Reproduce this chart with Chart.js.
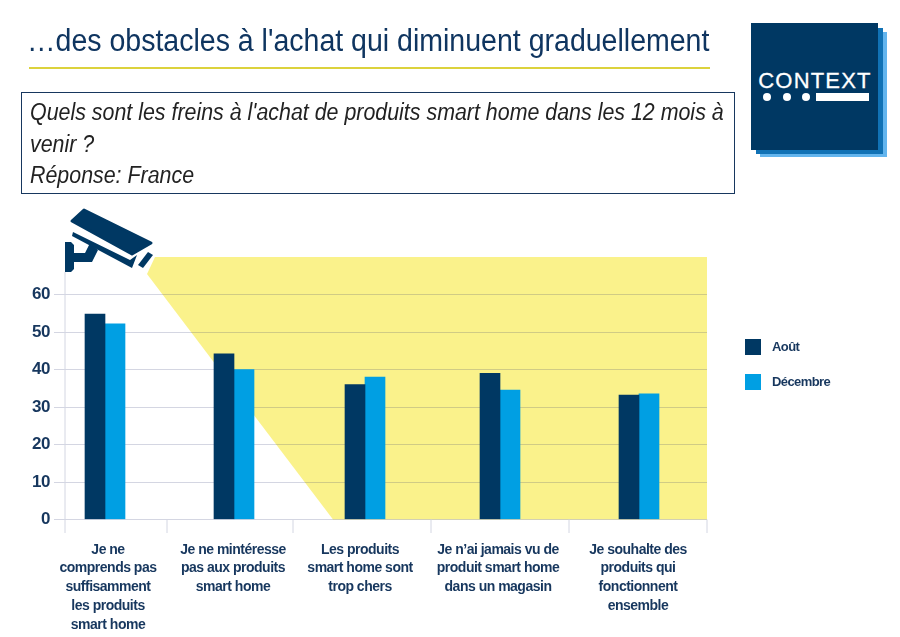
<!DOCTYPE html>
<html lang="fr">
<head>
<meta charset="utf-8">
<title>Freins à l'achat smart home</title>
<script src="https://cdn.jsdelivr.net/npm/chart.js@4/dist/chart.umd.min.js"></script>
<style>
  html, body { margin: 0; padding: 0; background: #fff; }
  #page { position: relative; width: 900px; height: 637px; overflow: hidden; font-family: "Liberation Sans", sans-serif; }
  #page > * { position: absolute; }
  canvas { left: 0; top: 0; }
  #titre { left: 27px; top: 21px; font-size: 31px; line-height: 40px; color: #0f3560; white-space: nowrap; transform: scaleX(0.92); transform-origin: left top; }
  #filet { left: 29px; top: 67px; width: 681px; height: 2px; background: #dcd23c; }
  #cadre { left: 21px; top: 92px; width: 712px; height: 100px; border: 1px solid #17375e; }
  #question { left: 30px; top: 97px; width: 770px; font-style: italic; font-size: 23px; line-height: 31.5px; color: #222; transform: scaleX(0.93); transform-origin: left top; }
  #l3 { left: 760px; top: 32px; width: 127px; height: 125px; background: #63b5ee; }
  #l2 { left: 756px; top: 28px; width: 127px; height: 126px; background: #1172b5; }
  #l1 { left: 751px; top: 23px; width: 127px; height: 127px; background: #003863; }
  #nom { left: 758px; top: 67px; width: 114px; text-align: center; font-size: 22px; line-height: 28px; color: #fff; letter-spacing: 1.2px; white-space: nowrap; -webkit-text-stroke: 0.3px #fff; }
  .point { width: 8px; height: 8px; top: 93px; border-radius: 50%; background: #fff; }
  #barre { left: 816px; top: 93px; width: 53px; height: 8px; background: #fff; }
  .cle { left: 745px; width: 16px; height: 16px; }
  .nomcle { left: 772px; font: bold 13px/16px "Liberation Sans", sans-serif; letter-spacing: -0.6px; color: #17375e; }
</style>
</head>
<body>
<div id="page">
  <canvas id="graphique" width="900" height="637"></canvas>
  <div id="titre">…des obstacles à l'achat qui diminuent graduellement</div>
  <div id="filet"></div>
  <div id="cadre"></div>
  <div id="question">Quels sont les freins à l'achat de produits smart home dans les 12 mois à venir ?<br>Réponse: France</div>
  <div id="l3"></div><div id="l2"></div><div id="l1"></div>
  <div id="nom">CONTEXT</div>
  <div class="point" style="left:763px"></div>
  <div class="point" style="left:783px"></div>
  <div class="point" style="left:802px"></div>
  <div id="barre"></div>
  <div id="legende"></div>
</div>
<script>
// donnees
const categories = [
  ['Je ne', 'comprends pas', 'suffisamment', 'les produits', 'smart home'],
  ['Je ne mintéresse', 'pas aux produits', 'smart home'],
  ['Les produits', 'smart home sont', 'trop chers'],
  ['Je n’ai jamais vu de', 'produit smart home', 'dans un magasin'],
  ['Je souhalte des', 'produits qui', 'fonctionnent', 'ensemble']
];
const nomsSeries = ['Août', 'Décembre'];
const valeursAout = [54.8, 44.2, 36, 39, 33.2];
const valeursDecembre = [52.2, 40, 38, 34.5, 33.5];
const ticksY = [0, 10, 20, 30, 40, 50, 60];

// mise en page (les groupes ne sont pas regulierement espaces sur l'original)
const couleurs = ['#003863', '#009fe3'];
const zone = { left: 65, right: 707, top: 257, bottom: 519.5 };
const centresGroupes = [105, 234, 365, 500, 639];
const centresLabels = [108, 233, 360, 498, 638];
const separateurs = [65, 167, 293, 431, 569, 707];
const police = '"Liberation Sans", sans-serif';

class CategoriePlacee extends Chart.CategoryScale {
  getPixelForValue(value) {
    const i = typeof value === 'number' ? value : this.parse(value);
    return centresGroupes[i];
  }
  getPixelForTick(index) {
    return centresLabels[index];
  }
}
CategoriePlacee.id = 'categoriePlacee';
CategoriePlacee.defaults = Chart.CategoryScale.defaults;
Chart.register(CategoriePlacee);

function poly(c, pts) {
  c.beginPath();
  pts.forEach((p, i) => i ? c.lineTo(p[0], p[1]) : c.moveTo(p[0], p[1]));
  c.closePath();
  c.fill();
}

// cone jaune + camera, derriere la grille
const fondCamera = {
  id: 'fondCamera',
  beforeDraw(chart) {
    const c = chart.ctx;
    // pas de police etroite installee : on resserre les lettres
    c.letterSpacing = '-0.5px';
    c.save();
    c.fillStyle = '#faf28b';
    poly(c, [[155, 257], [zone.right, 257], [zone.right, zone.bottom], [333, zone.bottom], [147, 274]]);

    c.fillStyle = '#003863';
    c.strokeStyle = '#003863';
    c.lineJoin = 'round';
    c.lineWidth = 3;
    const corps = [[84, 210], [151, 243], [132, 254], [72, 221]];
    poly(c, corps);
    c.stroke();
    poly(c, [[73, 232], [130, 260], [137, 255], [132, 268], [72, 236]]);
    poly(c, [[148, 252], [153, 255], [143, 268], [138, 265]]);
    // support
    poly(c, [[65, 242], [71, 242], [74, 245], [74, 253], [85, 253], [90, 243], [98, 250], [92, 262], [74, 262], [74, 269], [71, 272], [65, 272]]);
    c.restore();
  },
  afterDatasetsDraw(chart) {
    // petits traits sous l'axe et axe vertical
    const c = chart.ctx;
    c.save();
    c.strokeStyle = '#d3d6e2';
    c.lineWidth = 1;
    separateurs.forEach((x, i) => {
      c.beginPath();
      c.moveTo(x, i === 0 ? 272 : zone.bottom);
      c.lineTo(x, 533);
      c.stroke();
    });
    c.restore();
  }
};

new Chart(document.getElementById('graphique'), {
  type: 'bar',
  data: {
    labels: categories,
    datasets: [
      { label: nomsSeries[0], data: valeursAout, backgroundColor: couleurs[0], barThickness: 20 },
      { label: nomsSeries[1], data: valeursDecembre, backgroundColor: couleurs[1], barThickness: 20 }
    ]
  },
  plugins: [fondCamera],
  options: {
    responsive: false,
    animation: false,
    layout: { padding: { top: zone.top, right: 900 - zone.right, left: 0, bottom: 0 } },
    plugins: { legend: { display: false }, title: { display: false }, tooltip: { enabled: false } },
    scales: {
      x: {
        type: 'categoriePlacee',
        grid: { display: false },
        border: { display: false },
        afterFit(scale) { scale.height = 637 - zone.bottom; },
        ticks: {
          autoSkip: false,
          maxRotation: 0,
          padding: 13,
          color: '#17375e',
          font: { family: police, size: 14, weight: 'bold', lineHeight: '18.7px' }
        }
      },
      y: {
        min: 0,
        max: 70,
        afterBuildTicks(scale) { scale.ticks = ticksY.map(v => ({ value: v })); },
        afterFit(scale) { scale.width = zone.left; },
        grid: { color: 'rgba(40,50,110,0.2)', tickLength: 11, lineWidth: 1 },
        border: { display: false },
        ticks: {
          padding: 4,
          color: '#17375e',
          font: { family: police, size: 17, weight: 'bold' }
        }
      }
    }
  }
});

// legende a droite, construite depuis les series
const legende = document.getElementById('legende');
nomsSeries.forEach((nom, i) => {
  const haut = 338.5 + i * 35;
  legende.insertAdjacentHTML('beforeend',
    `<div class="cle" style="position:absolute;top:${haut}px;background:${couleurs[i]}"></div>` +
    `<div class="nomcle" style="position:absolute;top:${haut}px">${nom}</div>`);
});
</script>
</body>
</html>
